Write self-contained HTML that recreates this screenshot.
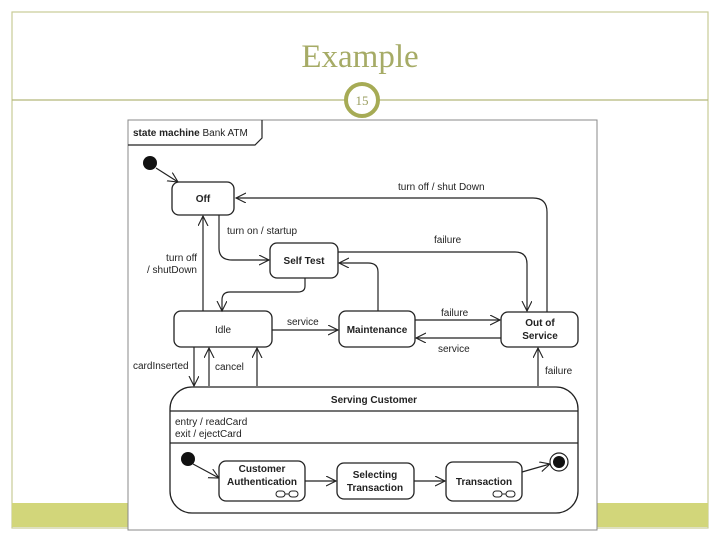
<!DOCTYPE html>
<html><head><meta charset="utf-8"><style>
html,body{margin:0;padding:0;background:#fff}
svg{display:block}
text{font-family:"Liberation Sans",sans-serif;font-size:10px;fill:#222}
.b{font-weight:bold}
.s{fill:#fff;stroke:#222;stroke-width:1.3}
.l{fill:none;stroke:#222;stroke-width:1.2}
</style></head><body>
<svg width="720" height="540" viewBox="0 0 720 540">
<defs><marker id="a" markerWidth="12" markerHeight="12" refX="10" refY="5" orient="auto" markerUnits="userSpaceOnUse"><path d="M0,0 L10,5 L0,10" fill="none" stroke="#222" stroke-width="1.1"/></marker></defs>
<rect x="12" y="12" width="696" height="516" fill="none" stroke="#c9cc96" stroke-width="1.2"/>
<rect x="12" y="503" width="116" height="24" fill="#d2d67a"/>
<rect x="597" y="503" width="111" height="24" fill="#d2d67a"/>
<text x="360" y="67" text-anchor="middle" style="font-family:'Liberation Serif',serif;font-size:33px;fill:#a6ab66">Example</text>
<line x1="12" y1="100" x2="708" y2="100" stroke="#b5b87a" stroke-width="1.2"/>
<circle cx="362" cy="100" r="16" fill="#fff" stroke="#a6ab55" stroke-width="4"/>
<text x="362" y="105" text-anchor="middle" style="font-family:'Liberation Serif',serif;font-size:13px;fill:#9a9e60">15</text>
<rect x="128" y="120" width="469" height="410" fill="#fff" stroke="#888" stroke-width="1"/>
<path d="M128,145 H255 L262,138 V120" class="l"/>
<text x="133" y="136"><tspan class="b">state machine</tspan> Bank ATM</text>
<circle cx="150" cy="163" r="7" fill="#111"/>
<line x1="156" y1="168" x2="178" y2="182" class="l" marker-end="url(#a)"/>
<rect x="172" y="182" width="62" height="33" rx="7" class="s"/>
<text x="203" y="202" text-anchor="middle" class="b">Off</text>
<rect x="270" y="243" width="68" height="35" rx="7" class="s"/>
<text x="304" y="264" text-anchor="middle" class="b">Self Test</text>
<rect x="174" y="311" width="98" height="36" rx="7" class="s"/>
<text x="223" y="333" text-anchor="middle">Idle</text>
<rect x="339" y="311" width="76" height="36" rx="7" class="s"/>
<text x="377" y="333" text-anchor="middle" class="b">Maintenance</text>
<rect x="501" y="312" width="77" height="35" rx="7" class="s"/>
<text x="540" y="326" text-anchor="middle" class="b">Out of</text>
<text x="540" y="339" text-anchor="middle" class="b">Service</text>
<path d="M547,312 V212 Q547,198 533,198 H236" class="l" marker-end="url(#a)"/>
<text x="398" y="190">turn off / shut Down</text>
<path d="M219,215 V248 Q219,260 232,260 H269" class="l" marker-end="url(#a)"/>
<text x="227" y="234">turn on / startup</text>
<path d="M338,252 H515 Q527,252 527,264 V311" class="l" marker-end="url(#a)"/>
<text x="434" y="243">failure</text>
<path d="M378,311 V272 Q378,263 368,263 H339" class="l" marker-end="url(#a)"/>
<path d="M305,278 V286 Q305,292 298,292 H230 Q222,292 222,300 V311" class="l" marker-end="url(#a)"/>
<line x1="203" y1="311" x2="203" y2="216" class="l" marker-end="url(#a)"/>
<text x="197" y="261" text-anchor="end">turn off</text>
<text x="197" y="273" text-anchor="end">/ shutDown</text>
<line x1="272" y1="330" x2="338" y2="330" class="l" marker-end="url(#a)"/>
<text x="287" y="325">service</text>
<line x1="415" y1="320" x2="500" y2="320" class="l" stroke="#888" marker-end="url(#a)"/>
<text x="441" y="316">failure</text>
<line x1="501" y1="338" x2="416" y2="338" class="l" marker-end="url(#a)"/>
<text x="438" y="352">service</text>
<line x1="194" y1="347" x2="194" y2="386" class="l" marker-end="url(#a)"/>
<text x="133" y="369">cardInserted</text>
<line x1="209" y1="386" x2="209" y2="348" class="l" marker-end="url(#a)"/>
<text x="215" y="370">cancel</text>
<line x1="257" y1="386" x2="257" y2="348" class="l" marker-end="url(#a)"/>
<line x1="538" y1="386" x2="538" y2="348" class="l" marker-end="url(#a)"/>
<text x="545" y="374">failure</text>
<rect x="170" y="387" width="408" height="126" rx="22" class="s"/>
<line x1="170" y1="411" x2="578" y2="411" stroke="#222" stroke-width="1.3"/>
<line x1="170" y1="443" x2="578" y2="443" stroke="#222" stroke-width="1.3"/>
<text x="374" y="403" text-anchor="middle" class="b">Serving Customer</text>
<text x="175" y="425">entry / readCard</text>
<text x="175" y="437">exit / ejectCard</text>
<circle cx="188" cy="459" r="7" fill="#111"/>
<line x1="193" y1="464" x2="219" y2="478" class="l" marker-end="url(#a)"/>
<rect x="219" y="461" width="86" height="40" rx="7" class="s"/>
<text x="262" y="472" text-anchor="middle" class="b">Customer</text>
<text x="262" y="485" text-anchor="middle" class="b">Authentication</text>
<rect x="337" y="463" width="77" height="36" rx="7" class="s"/>
<text x="375" y="478" text-anchor="middle" class="b">Selecting</text>
<text x="375" y="491" text-anchor="middle" class="b">Transaction</text>
<rect x="446" y="462" width="76" height="39" rx="7" class="s"/>
<text x="484" y="485" text-anchor="middle" class="b">Transaction</text>
<g fill="none" stroke="#222" stroke-width="1"><rect x="276" y="491" width="9" height="6" rx="3"/><rect x="289" y="491" width="9" height="6" rx="3"/><line x1="285" y1="494" x2="289" y2="494"/>
<rect x="493" y="491" width="9" height="6" rx="3"/><rect x="506" y="491" width="9" height="6" rx="3"/><line x1="502" y1="494" x2="506" y2="494"/></g>
<line x1="305" y1="481" x2="336" y2="481" class="l" marker-end="url(#a)"/>
<line x1="414" y1="481" x2="445" y2="481" class="l" marker-end="url(#a)"/>
<line x1="522" y1="472" x2="550" y2="464" class="l" marker-end="url(#a)"/>
<circle cx="559" cy="462" r="9" fill="#fff" stroke="#222" stroke-width="1.2"/>
<circle cx="559" cy="462" r="6" fill="#111"/>
</svg>
</body></html>
